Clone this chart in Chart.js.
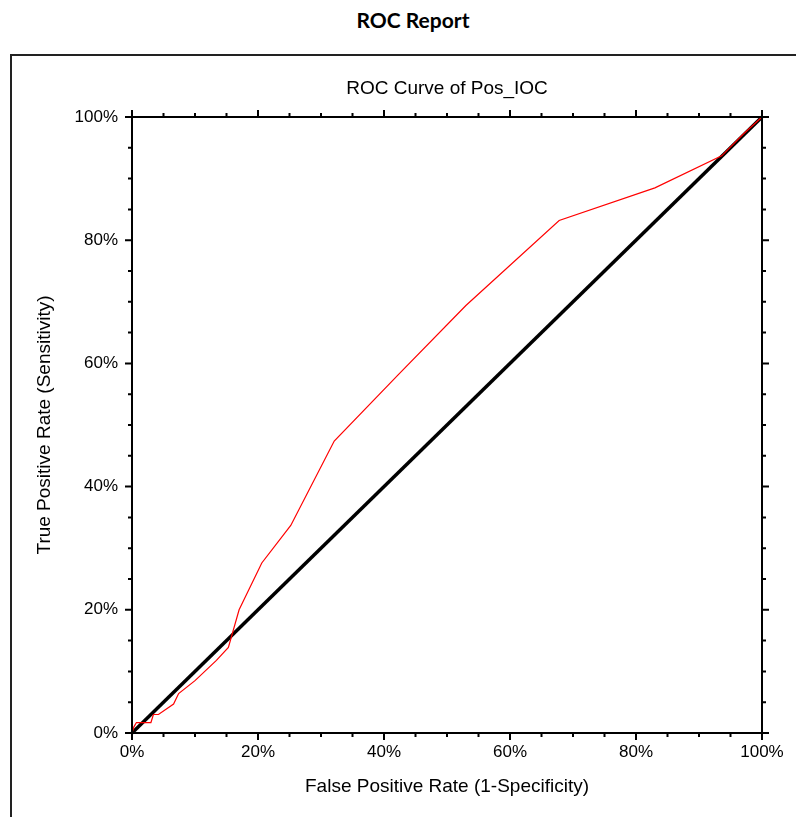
<!DOCTYPE html>
<html lang="en">
<head>
<meta charset="UTF-8">
<title>ROC Report</title>
<script src="https://cdn.jsdelivr.net/npm/chart.js@4.4.0/dist/chart.umd.min.js"></script>
<style>
    body { margin: 0; width: 796px; height: 817px; position: relative; overflow: hidden; background: #fff; }
    #report-title { position: absolute; top: 7px; left: 0; width: 826px; text-align: center; font: bold 21px Lato, sans-serif; color: #000; }
    #frame { position: absolute; left: 10px; top: 54px; width: 800px; height: 800px; border-left: 2px solid #222; border-top: 2px solid #222; }
    #chart-wrap { position: absolute; left: 0; top: 0; width: 796px; height: 817px; }
</style>
</head>
<body>
<div id="report-title">ROC Report</div>
<div id="frame"></div>
<div id="chart-wrap">
    <canvas id="roc-chart" width="796" height="817"></canvas>
</div>
<script>
// ROC points (percent)
var fpr = [0, 0.3, 0.7, 3.0, 3.4, 4.2, 6.6, 7.4, 10.0, 13.4, 15.3, 17.0, 20.6, 25.2, 32.1, 42.2, 53.0, 67.8, 83.0, 93.6, 97.0, 100];
var tpr = [0, 1.0, 1.7, 1.7, 3.0, 3.0, 4.7, 6.4, 8.5, 11.8, 13.9, 20.0, 27.6, 33.7, 47.4, 58.1, 69.4, 83.2, 88.5, 93.7, 97.2, 100];
// chance line
var refX = [0, 100];
var refY = [0, 100];
// axis ticks
var majorTicks = [0, 20, 40, 60, 80, 100];
var minorTicks = [0, 5, 10, 15, 20, 25, 30, 35, 40, 45, 50, 55, 60, 65, 70, 75, 80, 85, 90, 95, 100];

Chart.defaults.font.family = "'Liberation Sans', Arial, sans-serif";
Chart.defaults.color = '#000';

// box around the plot with outward ticks on all four sides
var frameTicks = {
    id: 'frameTicks',
    afterDraw: function(chart) {
        var ctx = chart.ctx, a = chart.chartArea, x = chart.scales.x, y = chart.scales.y;
        ctx.save();
        ctx.strokeStyle = '#000';
        ctx.lineWidth = 2;
        ctx.strokeRect(a.left, a.top, a.right - a.left, a.bottom - a.top);
        minorTicks.forEach(function(v) {
            var len = majorTicks.indexOf(v) >= 0 ? 7 : 4;
            var px = x.getPixelForValue(v), py = y.getPixelForValue(v);
            ctx.beginPath();
            ctx.moveTo(px, a.bottom); ctx.lineTo(px, a.bottom + len);
            ctx.moveTo(px, a.top); ctx.lineTo(px, a.top - len);
            ctx.moveTo(a.left, py); ctx.lineTo(a.left - len, py);
            ctx.moveTo(a.right, py); ctx.lineTo(a.right + len, py);
            ctx.stroke();
        });
        ctx.restore();
    }
};

var pct = function(v) { return v + '%'; };

new Chart(document.getElementById('roc-chart'), {
    type: 'scatter',
    data: {
        datasets: [{
            label: 'Pos_IOC',
            data: fpr.map(function(v, i) { return { x: v, y: tpr[i] }; }),
            showLine: true,
            borderColor: '#ff0000',
            borderWidth: 1.2,
            pointRadius: 0,
            clip: false
        }, {
            label: 'Reference',
            data: refX.map(function(v, i) { return { x: v, y: refY[i] }; }),
            showLine: true,
            borderColor: '#000',
            borderWidth: 3.5,
            pointRadius: 0,
            clip: false
        }]
    },
    options: {
        responsive: false,
        animation: false,
        devicePixelRatio: 1,
        layout: { padding: { left: 0, right: 34, top: 0, bottom: 0 } },
        plugins: {
            legend: { display: false },
            tooltip: { enabled: false },
            title: {
                display: true,
                fullSize: false,
                text: 'ROC Curve of Pos_IOC',
                font: { size: 19, weight: 'normal' },
                color: '#000',
                padding: { top: 77.6, bottom: 16.6 }
            }
        },
        scales: {
            x: {
                type: 'linear',
                position: 'bottom',
                min: 0,
                max: 100,
                afterBuildTicks: function(s) { s.ticks = majorTicks.map(function(v) { return { value: v }; }); },
                afterFit: function(s) { s.height = 84; },
                ticks: { callback: pct, font: { size: 17 }, color: '#000', padding: 9, maxRotation: 0, autoSkip: false },
                grid: { display: false, drawTicks: false },
                border: { display: false },
                title: { display: true, text: 'False Positive Rate (1-Specificity)', font: { size: 19 }, color: '#000', padding: { top: 0, bottom: 18.6 } }
            },
            y: {
                type: 'linear',
                position: 'left',
                min: 0,
                max: 100,
                afterBuildTicks: function(s) { s.ticks = majorTicks.map(function(v) { return { value: v }; }); },
                afterFit: function(s) { s.width = 132; },
                ticks: { callback: pct, font: { size: 17 }, color: '#000', padding: 14, autoSkip: false },
                grid: { display: false, drawTicks: false },
                border: { display: false },
                title: { display: true, text: 'True Positive Rate (Sensitivity)', font: { size: 19 }, color: '#000', padding: { top: 33.6, bottom: 0 } }
            }
        }
    },
    plugins: [frameTicks]
});
</script>
</body>
</html>
